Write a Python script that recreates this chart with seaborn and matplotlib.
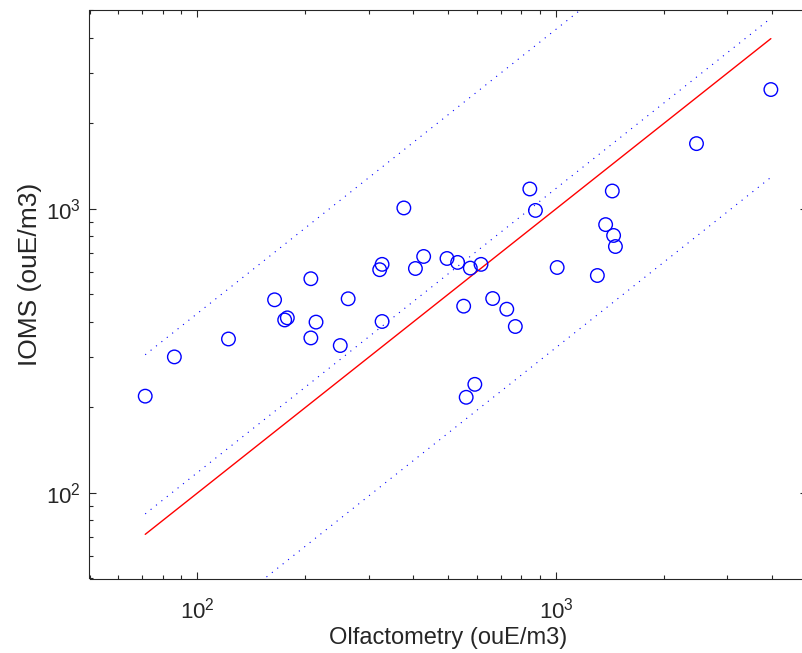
import numpy as np
import pandas as pd
import matplotlib
matplotlib.use("Agg")
import matplotlib.pyplot as plt
import seaborn as sns

# Data
olfactometry = [71.5, 86.2, 122, 164, 175, 178, 207, 207, 214, 263, 250, 327, 322, 327,
                376, 427, 405, 496, 531, 576, 617, 844, 875, 552, 665, 728, 769, 1006,
                1302, 1433, 1373, 1445, 1462, 593, 561, 2460, 3965]
ioms = [219, 301, 348, 478, 406, 413, 567, 351, 399, 482, 330, 637, 610, 401,
        1006, 679, 616, 668, 647, 618, 637, 1173, 986, 454, 483, 443, 385, 621,
        582, 1154, 879, 805, 736, 241, 217, 1694, 2625]
fit_ratio = 1.18      # dotted centre line: IOMS = 1.18 * Olfactometry
band_factor = 3.63    # dotted band: x / factor around the centre line
x_limits = [50, 5000]
y_limits = [50, 5000]

sns.set_style("white")
plt.rcParams["font.family"] = ["Liberation Sans", "DejaVu Sans"]
plt.rcParams["mathtext.fontset"] = "custom"
plt.rcParams["mathtext.rm"] = "Liberation Sans"
plt.rcParams["mathtext.it"] = "Liberation Sans:italic"
plt.rcParams["mathtext.bf"] = "Liberation Sans:bold"

df = pd.DataFrame({"Olfactometry": olfactometry, "IOMS": ioms})
x_line = np.array([min(olfactometry), max(olfactometry)])

fig = plt.figure(figsize=(8.03, 6.53), dpi=100)
ax = fig.add_axes([89.5 / 803, (653 - 578.5) / 653, (807 - 89.5) / 803, (578.5 - 10) / 653])

axis_col = (0.15, 0.15, 0.15)
dot = (0, (1, 5.2))

sns.lineplot(x=x_line, y=x_line * fit_ratio * band_factor, ax=ax, color="blue",
             lw=0.8, linestyle=dot)
sns.lineplot(x=x_line, y=x_line * fit_ratio, ax=ax, color="blue",
             lw=0.8, linestyle=dot)
sns.lineplot(x=x_line, y=x_line * fit_ratio / band_factor, ax=ax, color="blue",
             lw=0.8, linestyle=dot)
sns.lineplot(x=x_line, y=x_line, ax=ax, color="red", lw=1.0)

sns.scatterplot(data=df, x="Olfactometry", y="IOMS", ax=ax, marker="o", s=95,
                facecolors="none", edgecolor="blue", linewidth=1.0, zorder=5)

ax.set_xscale("log")
ax.set_yscale("log")
ax.set_xlim(x_limits)
ax.set_ylim(y_limits)

for s in ax.spines.values():
    s.set_visible(True)
    s.set_color(axis_col)
    s.set_linewidth(0.8)

ax.tick_params(which="both", direction="in", top=True, right=True, bottom=True, left=True,
               color=axis_col, labelcolor=axis_col, labelsize=16)
ax.tick_params(which="major", length=5.3, width=0.8)
ax.tick_params(which="minor", length=3, width=0.8)
ax.tick_params(axis="x", which="major", pad=14)
ax.tick_params(axis="y", which="major", pad=6)

ax.set_xlabel("Olfactometry (ouE/m3)", fontsize=17, color=axis_col, labelpad=2)
ax.set_ylabel("IOMS (ouE/m3)", fontsize=19, color=axis_col)
ax.yaxis.set_label_coords(-0.066, 0.535)

fig.savefig("out.png", dpi=100)
